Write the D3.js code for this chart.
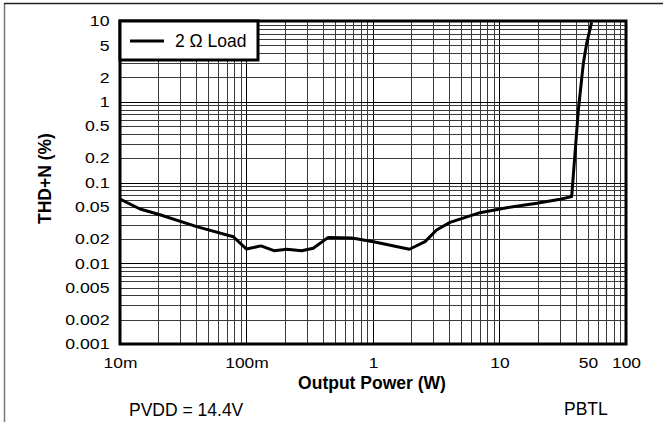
<!DOCTYPE html>
<html>
<head>
<meta charset="utf-8">
<script src="https://cdn.jsdelivr.net/npm/d3@7"></script>
<style>
  body { margin: 0; background: #fff; }
  svg { display: block; font-family: "Liberation Sans", Arial, sans-serif; }
</style>
</head>
<body>
<div id="chart"></div>
<script>
// output power (W) vs THD+N (%), 2 ohm load
const power = [0.01, 0.0144, 0.0201, 0.0404, 0.0787, 0.1, 0.13, 0.165, 0.208, 0.273, 0.337, 0.443, 0.68,
  1.01, 1.94, 2.58, 3.18, 4.06, 7.02, 11.4, 19.7, 30.1, 37.2, 42.0, 46.0, 48.9, 53.5];
const thd = [0.0625, 0.047, 0.0404, 0.0284, 0.0213, 0.015, 0.0164, 0.0143, 0.0149, 0.0143, 0.0153, 0.0209, 0.0206,
  0.0185, 0.0149, 0.0185, 0.0258, 0.0321, 0.0423, 0.0488, 0.0552, 0.0619, 0.0668, 0.79, 2.99, 5.3, 9.6];

const xTicks = [0.01, 0.1, 1, 10, 50, 100];
const xTickLabels = ["10m", "100m", "1", "10", "50", "100"];
const yTicks = [10, 5, 2, 1, 0.5, 0.2, 0.1, 0.05, 0.02, 0.01, 0.005, 0.002, 0.001];
const yTickLabels = ["10", "5", "2", "1", "0.5", "0.2", "0.1", "0.05", "0.02", "0.01", "0.005", "0.002", "0.001"];

const width = 663, height = 422;
const m = { left: 120, top: 21, right: 626, bottom: 344 };

const svg = d3.select("#chart").append("svg")
    .attr("width", width)
    .attr("height", height);

// outer frame (left and top edges only visible)
svg.append("line").attr("x1", 4.5).attr("x2", 4.5).attr("y1", 3).attr("y2", height)
    .attr("stroke", "#777").attr("stroke-width", 1.5);
svg.append("line").attr("x1", 4).attr("x2", width).attr("y1", 3.5).attr("y2", 3.5)
    .attr("stroke", "#222").attr("stroke-width", 1.5);

const x = d3.scaleLog().domain([0.01, 100]).range([m.left, m.right]);
const y = d3.scaleLog().domain([0.001, 10]).range([m.bottom, m.top]);

// grid
const xGrid = [];
for (let d = 0.01; d < 100; d *= 10) for (let k = 1; k < 10; k++) xGrid.push(d * k);
const yGrid = [];
for (let d = 0.001; d < 10; d *= 10) for (let k = 1; k < 10; k++) yGrid.push(d * k);

const grid = svg.append("g").attr("shape-rendering", "crispEdges");
grid.selectAll(".vx")
    .data(xGrid)
    .join("line")
    .attr("x1", d => Math.round(x(d)) + 0.5)
    .attr("x2", d => Math.round(x(d)) + 0.5)
    .attr("y1", m.top)
    .attr("y2", m.bottom)
    .attr("stroke", (d, i) => i % 9 === 0 ? "#000" : "#3a3a3a")
    .attr("stroke-width", 1);
grid.selectAll(".hy")
    .data(yGrid)
    .join("line")
    .attr("y1", d => Math.round(y(d)) + 0.5)
    .attr("y2", d => Math.round(y(d)) + 0.5)
    .attr("x1", m.left)
    .attr("x2", m.right)
    .attr("stroke", (d, i) => i % 9 === 0 ? "#000" : "#3a3a3a")
    .attr("stroke-width", 1);

// curve
svg.append("defs").append("clipPath").attr("id", "clip")
    .append("rect").attr("x", m.left).attr("y", m.top)
    .attr("width", m.right - m.left).attr("height", m.bottom - m.top);

const line = d3.line()
    .x((d, i) => x(power[i]))
    .y((d, i) => y(thd[i]));

svg.append("path")
    .datum(power)
    .attr("clip-path", "url(#clip)")
    .attr("fill", "none")
    .attr("stroke", "#000")
    .attr("stroke-width", 3)
    .attr("stroke-linejoin", "round")
    .attr("d", line);

// plot frame
svg.append("rect")
    .attr("x", m.left).attr("y", m.top)
    .attr("width", m.right - m.left).attr("height", m.bottom - m.top)
    .attr("fill", "none").attr("stroke", "#000").attr("stroke-width", 3);

// axes labels (no tick marks); labels are a bit wide in the original
const xAxis = svg.append("g")
    .attr("transform", `translate(0,${m.bottom + 10})`)
    .call(d3.axisBottom(x).tickValues(xTicks).tickSize(0).tickFormat((d, i) => xTickLabels[i]));
xAxis.select(".domain").remove();
xAxis.selectAll("text").attr("font-size", 15).attr("fill", "#000")
    .attr("font-family", "Liberation Sans, Arial, sans-serif")
    .attr("transform", "scale(1.16,1)");

const yAxis = svg.append("g")
    .attr("transform", `translate(${m.left - 7},0)`)
    .call(d3.axisLeft(y).tickValues(yTicks).tickSize(0).tickFormat((d, i) => yTickLabels[i]));
yAxis.select(".domain").remove();
yAxis.selectAll("text").attr("font-size", 15).attr("fill", "#000")
    .attr("font-family", "Liberation Sans, Arial, sans-serif")
    .attr("transform", "scale(1.18,1)");

svg.append("text")
    .attr("x", 372)
    .attr("y", 389)
    .attr("text-anchor", "middle")
    .attr("font-size", 17.5)
    .attr("font-weight", "bold")
    .text("Output Power (W)");

svg.append("text")
    .attr("transform", `translate(51,178.5) rotate(-90)`)
    .attr("text-anchor", "middle")
    .attr("font-size", 17.5)
    .attr("font-weight", "bold")
    .text("THD+N (%)");

svg.append("text")
    .attr("x", 129).attr("y", 416)
    .attr("font-size", 17.5)
    .text("PVDD = 14.4V");
svg.append("text")
    .attr("x", 564).attr("y", 415)
    .attr("font-size", 17.5)
    .text("PBTL");

// legend
const legend = svg.append("g");
legend.append("rect")
    .attr("x", m.left).attr("y", m.top)
    .attr("width", 138).attr("height", 39)
    .attr("fill", "#fff").attr("stroke", "#000").attr("stroke-width", 3);
legend.append("line")
    .attr("x1", 130).attr("x2", 164).attr("y1", 41).attr("y2", 41)
    .attr("stroke", "#000").attr("stroke-width", 3);
legend.append("text")
    .attr("x", 175).attr("y", 46.5)
    .attr("font-size", 17.5)
    .text("2 Ω Load");
</script>
</body>
</html>
